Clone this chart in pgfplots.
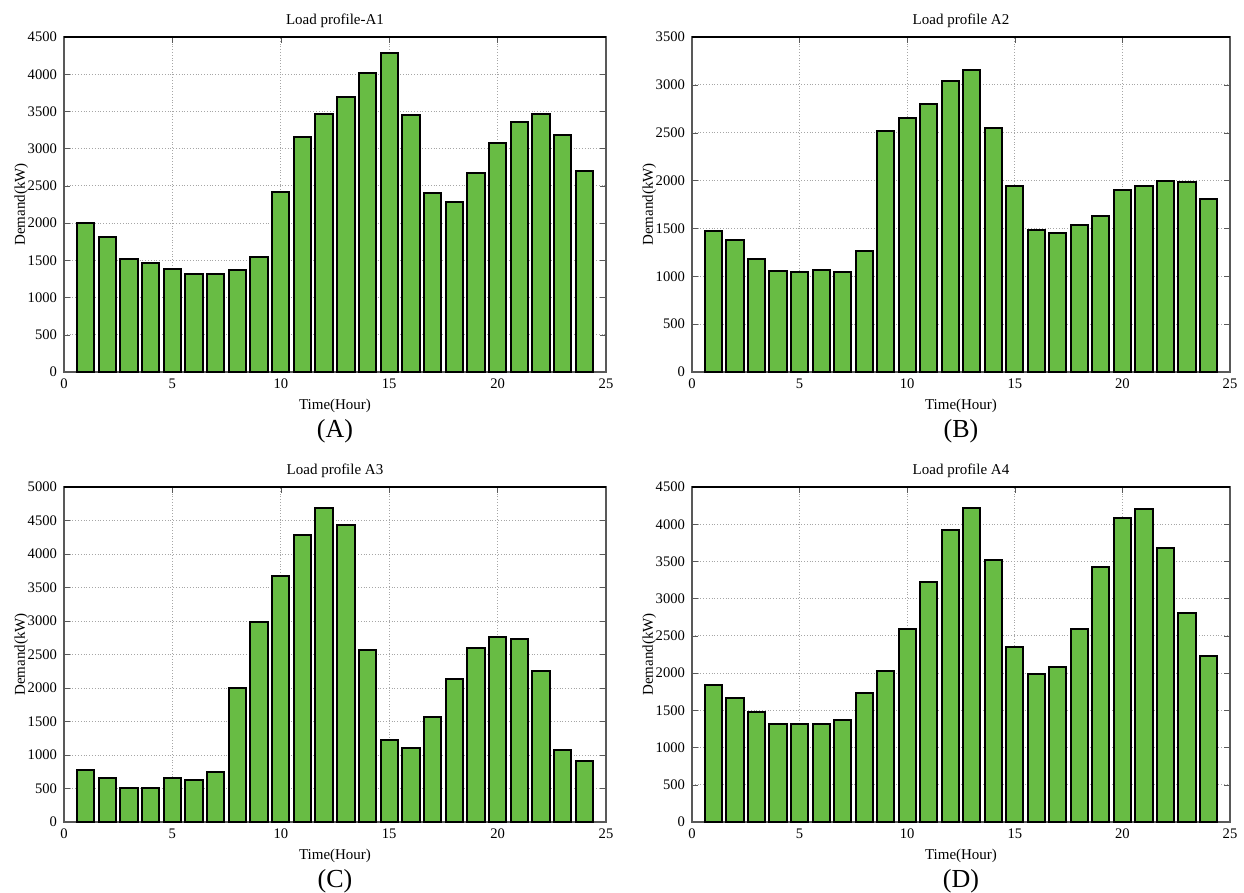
\documentclass[border=0pt]{standalone}
\usepackage{fontspec}
\setmainfont{Liberation Serif}
\usepackage{pgfplots}
\pgfplotsset{compat=1.18}
\definecolor{barg}{RGB}{104,188,68}
\pgfplotsset{
  lp/.style={
    scale only axis, width=271pt, height=167.5pt,
    xmin=0, xmax=25, ymin=0,
    xtick={0,5,...,25},
    tick align=inside, ticks=both,
    xtick pos=both, ytick pos=both,
    major tick length=3pt,
    grid=major,
    major grid style={densely dotted, gray!70, line width=0.4pt},
    axis line style={gray!70!black, line width=0.6pt},
    tick style={gray!70!black},
    ticklabel style={font=\fontsize{7.3}{8}\selectfont},
    /pgf/number format/assume math mode=true,
    /pgf/number format/1000 sep={},
    scaled y ticks=false,
    title style={font=\fontsize{7.5}{9}\selectfont, yshift=-5pt},
    xlabel={Time(Hour)}, ylabel={Demand(kW)},
    label style={font=\fontsize{7.5}{9}\selectfont},
    xlabel style={yshift=2pt},
    ylabel style={yshift=-7pt},
    clip=false,
  },
  bb/.style={ybar, bar width=0.8, bar shift=0pt, fill=barg, draw=black, line width=1pt},
}
\begin{document}
\begin{tikzpicture}
\path[use as bounding box] (0,0) rectangle (622pt,-446.5pt);
% A
\begin{axis}[lp, at={(32pt,-18.5pt)}, anchor=north west, ymax=4500, ytick={0,500,...,4500},
  title={Load profile-A1}]
\addplot[bb] coordinates {(1,2000)(2,1820)(3,1520)(4,1460)(5,1390)(6,1320)(7,1320)(8,1370)(9,1550)(10,2420)(11,3150)(12,3470)(13,3700)(14,4020)(15,4290)(16,3450)(17,2400)(18,2280)(19,2670)(20,3080)(21,3360)(22,3470)(23,3190)(24,2700)};
\draw[line width=1pt] (rel axis cs:0,1) -- (rel axis cs:1,1);
\node[font=\fontsize{13}{15}\selectfont] at (rel axis cs:0.5,-0.178) {(A)};
\end{axis}
% B
\begin{axis}[lp, at={(346pt,-18.5pt)}, anchor=north west, width=269pt, ymax=3500, ytick={0,500,...,3500},
  title={Load profile A2}]
\addplot[bb] coordinates {(1,1470)(2,1375)(3,1185)(4,1060)(5,1045)(6,1070)(7,1045)(8,1260)(9,2520)(10,2650)(11,2800)(12,3045)(13,3160)(14,2550)(15,1940)(16,1480)(17,1455)(18,1540)(19,1625)(20,1900)(21,1940)(22,2000)(23,1980)(24,1810)};
\draw[line width=1pt] (rel axis cs:0,1) -- (rel axis cs:1,1);
\node[font=\fontsize{13}{15}\selectfont] at (rel axis cs:0.5,-0.178) {(B)};
\end{axis}
% C
\begin{axis}[lp, at={(32pt,-243.5pt)}, anchor=north west, ymax=5000, ytick={0,500,...,5000},
  title={Load profile A3}]
\addplot[bb] coordinates {(1,770)(2,650)(3,510)(4,510)(5,650)(6,630)(7,740)(8,2000)(9,2990)(10,3670)(11,4290)(12,4690)(13,4430)(14,2570)(15,1220)(16,1110)(17,1570)(18,2140)(19,2590)(20,2760)(21,2730)(22,2250)(23,1080)(24,910)};
\draw[line width=1pt] (rel axis cs:0,1) -- (rel axis cs:1,1);
\node[font=\fontsize{13}{15}\selectfont] at (rel axis cs:0.5,-0.178) {(C)};
\end{axis}
% D
\begin{axis}[lp, at={(346pt,-243.5pt)}, anchor=north west, width=269pt, ymax=4500, ytick={0,500,...,4500},
  title={Load profile A4}]
\addplot[bb] coordinates {(1,1840)(2,1670)(3,1480)(4,1320)(5,1320)(6,1320)(7,1370)(8,1730)(9,2030)(10,2590)(11,3220)(12,3920)(13,4220)(14,3520)(15,2350)(16,1990)(17,2080)(18,2590)(19,3430)(20,4090)(21,4200)(22,3680)(23,2810)(24,2230)};
\draw[line width=1pt] (rel axis cs:0,1) -- (rel axis cs:1,1);
\node[font=\fontsize{13}{15}\selectfont] at (rel axis cs:0.5,-0.178) {(D)};
\end{axis}
\end{tikzpicture}
\end{document}
